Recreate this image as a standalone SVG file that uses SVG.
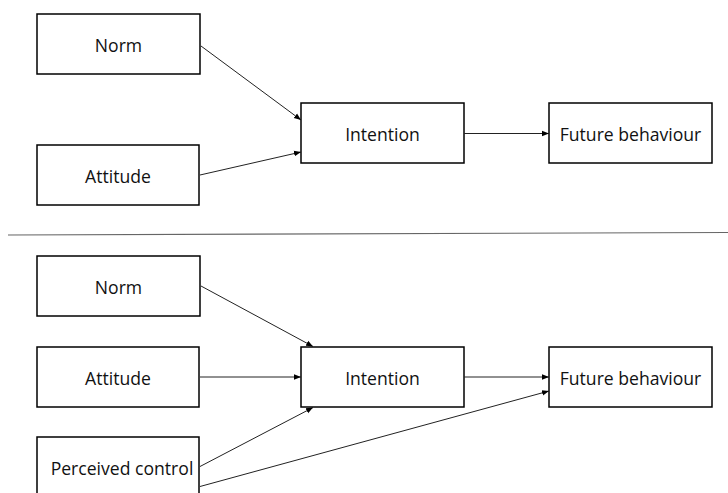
<svg xmlns="http://www.w3.org/2000/svg" width="728" height="493" viewBox="0 0 728 493">
<style>
.box{fill:#fff;stroke:#000;stroke-width:1.5}
.lbl{font-family:"Open Sans","Noto Sans",sans-serif;font-size:17.6px;fill:#111;text-anchor:middle}
.con{stroke:#222;stroke-width:1;fill:none;marker-end:url(#ah)}
</style>
<defs>
<marker id="ah" viewBox="0 0 10 10" refX="10" refY="5" markerWidth="7" markerHeight="7" orient="auto" markerUnits="userSpaceOnUse">
<path d="M0,1 L10,5 L0,9 z" fill="#000"/>
</marker>
</defs>
<rect width="728" height="493" fill="#fff"/>
<g id="top-norm"><rect class="box" x="37" y="14" width="163" height="60"/><text class="lbl" x="118.5" y="52">Norm</text></g>
<g id="top-attitude"><rect class="box" x="37" y="145" width="162" height="60"/><text class="lbl" x="118" y="183">Attitude</text></g>
<g id="top-intention"><rect class="box" x="301" y="103" width="163" height="60"/><text class="lbl" x="382.5" y="141">Intention</text></g>
<g id="top-future"><rect class="box" x="549" y="103" width="163" height="60"/><text class="lbl" x="630.5" y="141">Future behaviour</text></g>
<g id="separator"><line x1="8" y1="235" x2="728" y2="232.5" stroke="#666" stroke-width="1.2"/></g>
<g id="bot-norm"><rect class="box" x="37" y="256" width="163" height="60"/><text class="lbl" x="118.5" y="294">Norm</text></g>
<g id="bot-attitude"><rect class="box" x="37" y="347" width="162" height="60"/><text class="lbl" x="118" y="385">Attitude</text></g>
<g id="bot-control"><rect class="box" x="37" y="437" width="162" height="62"/><text class="lbl" x="122" y="475">Perceived control</text></g>
<g id="bot-intention"><rect class="box" x="301" y="347" width="163" height="60"/><text class="lbl" x="382.5" y="385">Intention</text></g>
<g id="bot-future"><rect class="box" x="549" y="347" width="163" height="60"/><text class="lbl" x="630.5" y="385">Future behaviour</text></g>
<g id="connectors">
<line class="con" x1="201" y1="46" x2="301" y2="120"/>
<line class="con" x1="200" y1="175" x2="301" y2="152"/>
<line class="con" x1="464" y1="133.5" x2="549" y2="133.5"/>
<line class="con" x1="201" y1="286" x2="313" y2="346.5"/>
<line class="con" x1="200" y1="377" x2="301" y2="377"/>
<line class="con" x1="200" y1="466.5" x2="313" y2="407.5"/>
<line class="con" x1="200" y1="486.5" x2="549" y2="391"/>
<line class="con" x1="464" y1="377" x2="549" y2="377"/>
</g>
</svg>
